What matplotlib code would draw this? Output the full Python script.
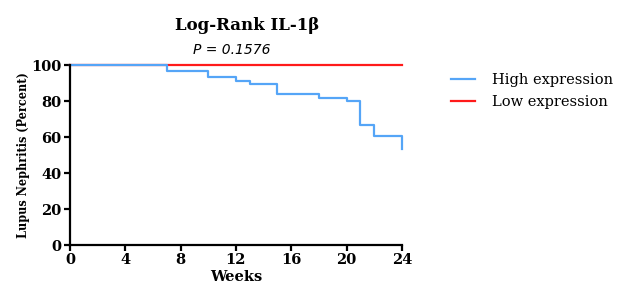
import matplotlib.pyplot as plt

# Kaplan-Meier style step data (weeks, percent)
high_weeks = [0, 7, 10, 12, 13, 15, 18, 20, 21, 22, 24]
high_pct = [100, 96.8, 93.6, 90.9, 89.4, 84.1, 81.9, 80.0, 66.8, 60.6, 53.3]
low_weeks = [0, 24]
low_pct = [100, 100]

x_ticks = [0, 4, 8, 12, 16, 20, 24]
y_ticks = [0, 20, 40, 60, 80, 100]

fig = plt.figure(figsize=(6.32, 3.0), dpi=100)
ax = fig.add_axes([0.1108, 0.1833, 0.525, 0.6])

ax.step(low_weeks, low_pct, where="post", color="#ff1a1a", lw=1.6,
        label="Low expression", clip_on=False)
ax.step(high_weeks, high_pct, where="post", color="#55a5f7", lw=1.6,
        label="High expression", clip_on=False)

ax.set_xlim(0, 24)
ax.set_ylim(0, 100)
ax.set_xticks(x_ticks)
ax.set_yticks(y_ticks)

for s in ["top", "right"]:
    ax.spines[s].set_visible(False)
for s in ["left", "bottom"]:
    ax.spines[s].set_linewidth(1.6)
ax.tick_params(width=1.6, length=4, labelsize=10.5, pad=2)
for lab in ax.get_xticklabels() + ax.get_yticklabels():
    lab.set_fontfamily("DejaVu Serif")
    lab.set_fontweight("bold")

ax.set_xlabel("Weeks", fontfamily="DejaVu Serif", fontweight="bold",
              fontsize=10.5, labelpad=2)
ax.set_ylabel("Lupus Nephritis (Percent)", fontfamily="DejaVu Serif",
              fontstretch="condensed", fontweight="bold", fontsize=9,
              labelpad=1)

fig.text(0.391, 0.915, "Log-Rank IL-1\u03b2", ha="center", va="center",
         fontfamily="DejaVu Serif", fontweight="bold", fontsize=12)
fig.text(0.367, 0.835, "P = 0.1576", ha="center", va="center",
         fontfamily="DejaVu Sans", style="italic", fontsize=10)

handles, labels = ax.get_legend_handles_labels()
ax.legend(handles[::-1], labels[::-1], loc="upper left",
          bbox_to_anchor=(1.11, 1.03), frameon=False, handlelength=1.6,
          handletextpad=1.2, labelspacing=0.55,
          prop={"family": "DejaVu Serif", "size": 10.5})

fig.savefig("out.png", dpi=100)
